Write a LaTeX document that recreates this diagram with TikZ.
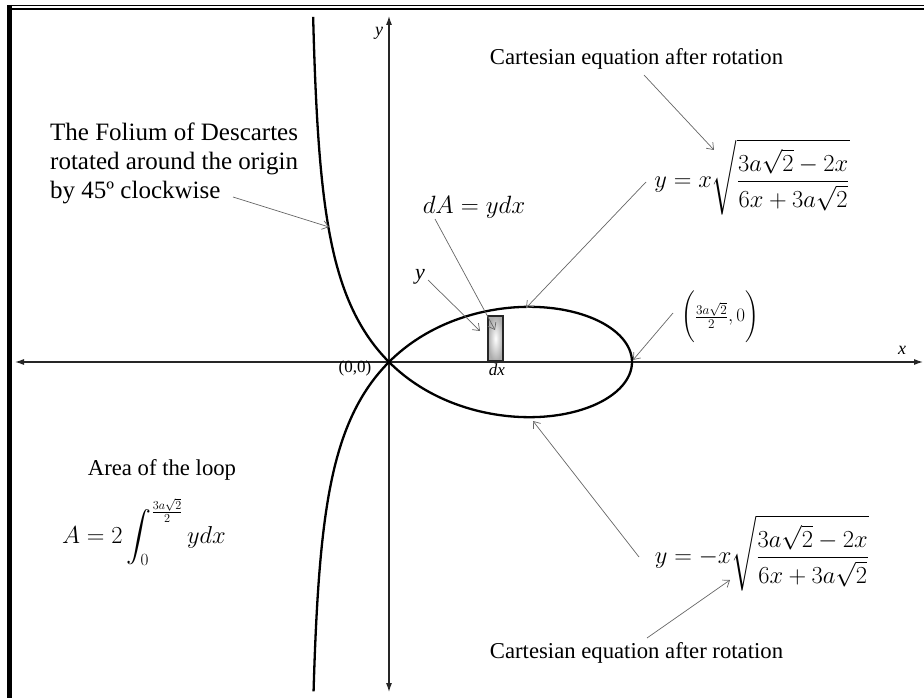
\RequirePackage{fix-cm}
\documentclass[tikz,border=0pt]{standalone}
\usepackage{amsmath}
\usepackage{fontspec}
\setmainfont{Liberation Serif}
\DeclareMathSizes{24.5}{24.5}{17.15}{12.25}
\DeclareMathSizes{25}{25}{17.5}{12.5}
\DeclareMathSizes{19}{19}{13.3}{9.5}
\usetikzlibrary{arrows.meta}
\tikzset{
  txt/.style={font=\fontsize{22.7}{27}\selectfont, inner sep=0pt},
  bigtxt/.style={font=\fontsize{25}{30}\selectfont, inner sep=0pt, anchor=base west},
  eq/.style={font=\fontsize{24.5}{29}\selectfont, inner sep=0pt},
  smalleq/.style={font=\fontsize{19}{23}\selectfont, inner sep=0pt},
  lbl/.style={font=\fontsize{17}{20}\selectfont, inner sep=0pt},
  axisline/.style={line width=1.1pt, black!85, {Latex[length=9pt,width=6pt]}-{Latex[length=9pt,width=6pt]}},
  curve/.style={line width=2.3pt, black},
  callout/.style={draw=black!60, line width=0.7pt, -{Straight Barb[length=6pt,width=9pt]}},
  strip/.style={draw=black!85, line width=1.3pt, minimum width=15pt, minimum height=45pt, inner sep=0pt,
     inner color=white, outer color=black!32}
}
\begin{document}
\begin{tikzpicture}[x=1pt,y=-1pt]
\useasboundingbox (0,0) rectangle (924,698);
% frame
\draw[line width=1.6pt] (7,5.6) -- (924,5.6);
\draw[line width=1.9pt] (10,8.9) -- (924,8.9);
\draw[line width=4.5pt] (9.5,4.8) -- (9.5,698);
% axes
\coordinate (O) at (389,362);
\coordinate (xl) at (15,362);
\coordinate (xr) at (923,362);
\coordinate (yt) at (389,16);
\coordinate (yb) at (389,692);
\draw[axisline] (xl) -- (xr);
\draw[axisline] (yb) -- (yt);
% folium (rotated)
\draw[curve] plot[domain=-45:45, samples=241, variable=\t, smooth]
  ({389+243*cos(2*\t)/(2-cos(2*\t))}, {362-243*cos(2*\t)/(2-cos(2*\t))*tan(\t)});
\draw[curve] plot[domain=102.4:135, samples=120, variable=\t, smooth]
  ({389+243*cos(2*\t)/(2-cos(2*\t))}, {362-243*cos(2*\t)/(2-cos(2*\t))*tan(\t)});
\draw[curve] plot[domain=45:77.1, samples=120, variable=\t, smooth]
  ({389+243*cos(2*\t)/(2-cos(2*\t))}, {362-243*cos(2*\t)/(2-cos(2*\t))*tan(\t)});
% strip
\node[strip] (strip) at (495.5,338.5) {};
% labels
\node[lbl, font=\fontsize{18}{20}\selectfont\itshape] (ylab) at (379,33) {y};
\node[lbl, font=\fontsize{18}{20}\selectfont\itshape] (xlab) at (902,350) {x};
\node[lbl] (orig) at (355,368) {(0,0)};
\node[lbl, font=\fontsize{17}{20}\selectfont\itshape] (dxlab) at (497,370) {dx};
\node[lbl, font=\fontsize{22}{24}\selectfont\itshape] (ysmall) at (420,277) {y};
\node[txt, anchor=base] (cart1) at (636.5,65) {Cartesian equation after rotation};
\node[txt, anchor=base] (cart2) at (636.5,658) {Cartesian equation after rotation};
\node[bigtxt] (fol1) at (50,141) {The Folium of Descartes};
\node[bigtxt] (fol2) at (50,170) {rotated around the origin};
\node[bigtxt] (fol3) at (50,198) {by 45º clockwise};
\node[txt] (areatxt) at (162,470) {Area of the loop};
\node[eq, font=\fontsize{25}{30}\selectfont] (dA) at (474,207) {$dA = ydx$};
\node[eq] (eqtop) at (752,177) {$\displaystyle y = x\sqrt{\frac{3a\sqrt{2}-2x}{6x+3a\sqrt{2}}}$};
\node[eq] (eqbot) at (762,553) {$\displaystyle y = -x\sqrt{\frac{3a\sqrt{2}-2x}{6x+3a\sqrt{2}}}$};
\node[eq, anchor=west] (area) at (62,532) {$\displaystyle A = 2\int_0^{\frac{3a\sqrt{2}}{2}} ydx$};
\node[smalleq] (tiplab) at (720,317) {$\left(\rule[-20pt]{0pt}{46pt}\frac{3a\sqrt{2}}{2},0\right)$};
% callout points
\coordinate (c1s) at (644,75);   \coordinate (c1e) at (714,150);
\coordinate (c2s) at (646,182);  \coordinate (looptop) at (526,308);
\coordinate (c3s) at (435,219);  \coordinate (c3e) at (495,330);
\coordinate (c4s) at (428,280);  \coordinate (c4e) at (480,331);
\coordinate (c5s) at (673,313);  \coordinate (tip) at (633,360);
\coordinate (c6s) at (233,197);  \coordinate (branch) at (329,227);
\coordinate (c7s) at (639,557);  \coordinate (loopbot) at (533,421);
\coordinate (c8s) at (647,638);  \coordinate (c8e) at (730,580);
\draw[callout] (c1s) -- (c1e);
\draw[callout] (c2s) -- (looptop);
\draw[callout] (c3s) -- (c3e);
\draw[callout] (c4s) -- (c4e);
\draw[callout] (c5s) -- (tip);
\draw[callout] (c6s) -- (branch);
\draw[callout] (c7s) -- (loopbot);
\draw[callout] (c8s) -- (c8e);
\end{tikzpicture}
\end{document}
